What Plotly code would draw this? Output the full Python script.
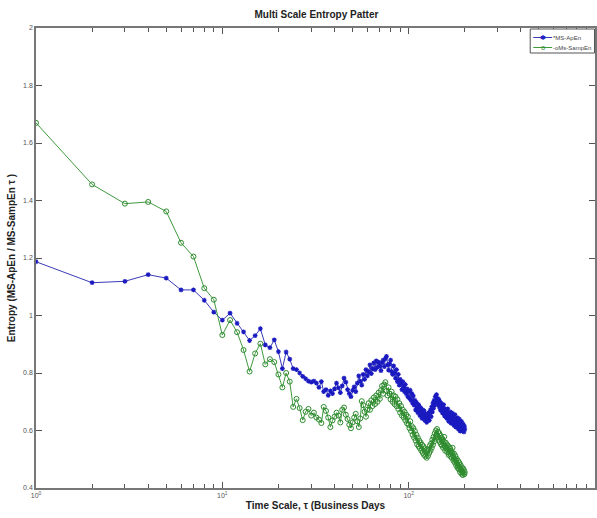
import plotly.graph_objects as go

scales = list(range(1, 201))

apen = [
    1.187, 1.114, 1.119, 1.142, 1.130, 1.089, 1.089, 1.053, 1.012, 0.984,
    1.008, 0.973, 0.943, 0.913, 0.930, 0.954, 0.898, 0.888, 0.915, 0.874,
    0.815, 0.873, 0.848, 0.815, 0.812,
    0.800, 0.788, 0.780, 0.772, 0.768, 0.772, 0.765, 0.750, 0.770, 0.735,
    0.742, 0.722, 0.738, 0.728, 0.745, 0.765, 0.748, 0.732, 0.755, 0.782,
    0.768, 0.742, 0.728, 0.718, 0.740, 0.752, 0.735, 0.765, 0.790, 0.772,
    0.758, 0.795, 0.778, 0.812, 0.790,
    0.805, 0.828, 0.798, 0.815, 0.835, 0.812, 0.842, 0.820, 0.838, 0.825,
    0.808, 0.836, 0.845, 0.822, 0.850, 0.858, 0.828, 0.810, 0.832, 0.845,
    0.805, 0.795, 0.825, 0.800, 0.782, 0.812, 0.770, 0.795, 0.758, 0.778,
    0.765, 0.742, 0.770, 0.752, 0.735, 0.760, 0.728, 0.745, 0.718, 0.738,
    0.712, 0.740, 0.705, 0.728, 0.695, 0.720, 0.688, 0.705, 0.672, 0.698,
    0.680, 0.662, 0.690, 0.668, 0.652, 0.680, 0.660, 0.642, 0.672, 0.650,
    0.668, 0.635, 0.658, 0.645, 0.628, 0.655, 0.640, 0.662, 0.635, 0.650,
    0.672, 0.648, 0.682, 0.665, 0.695, 0.678, 0.705, 0.688, 0.718, 0.700,
    0.725, 0.698, 0.712, 0.690, 0.708, 0.682, 0.700, 0.672, 0.695, 0.668,
    0.685, 0.660, 0.678, 0.690, 0.662, 0.650, 0.675, 0.655, 0.668, 0.642,
    0.660, 0.675, 0.648, 0.632, 0.658, 0.640, 0.665, 0.645, 0.625, 0.652,
    0.638, 0.660, 0.630, 0.645, 0.618, 0.640, 0.655, 0.628, 0.612, 0.638,
    0.622, 0.645, 0.615, 0.630, 0.605, 0.628, 0.640, 0.612, 0.598, 0.625,
    0.610, 0.632, 0.605, 0.618, 0.598, 0.622, 0.608, 0.595, 0.615, 0.605,
]

sampen = [
    1.670, 1.456, 1.389, 1.395, 1.362, 1.253, 1.205, 1.095, 1.055, 0.932,
    0.984, 0.942, 0.880, 0.805, 0.868, 0.902, 0.830, 0.848, 0.838, 0.795,
    0.750, 0.800, 0.770, 0.682, 0.710,
    0.678, 0.636, 0.665, 0.675, 0.652, 0.662, 0.645, 0.638, 0.626, 0.682,
    0.668, 0.645, 0.612, 0.635, 0.648, 0.662, 0.652, 0.628, 0.672, 0.680,
    0.655, 0.640, 0.620, 0.608, 0.628, 0.645, 0.658, 0.632, 0.612, 0.642,
    0.702, 0.688, 0.665, 0.648, 0.672,
    0.695, 0.672, 0.705, 0.685, 0.715, 0.692, 0.722, 0.700, 0.732, 0.710,
    0.740, 0.755, 0.728, 0.760, 0.768, 0.738, 0.722, 0.750, 0.728, 0.708,
    0.735, 0.700, 0.722, 0.692, 0.718, 0.685, 0.708, 0.675, 0.695, 0.662,
    0.685, 0.652, 0.672, 0.645, 0.665, 0.635, 0.655, 0.625, 0.648, 0.620,
    0.608, 0.632, 0.598, 0.615, 0.585, 0.608, 0.575, 0.598, 0.565, 0.585,
    0.552, 0.575, 0.545, 0.565, 0.538, 0.558, 0.530, 0.550, 0.522, 0.545,
    0.515, 0.538, 0.510, 0.532, 0.505, 0.528, 0.512, 0.535, 0.522, 0.548,
    0.530, 0.555, 0.540, 0.568, 0.550, 0.578, 0.562, 0.590, 0.572, 0.600,
    0.585, 0.605, 0.578, 0.595, 0.568, 0.590, 0.560, 0.582, 0.552, 0.575,
    0.548, 0.568, 0.540, 0.562, 0.578, 0.545, 0.530, 0.558, 0.538, 0.552,
    0.525, 0.548, 0.532, 0.515, 0.542, 0.520, 0.538, 0.510, 0.528, 0.505,
    0.522, 0.540, 0.512, 0.495, 0.520, 0.502, 0.488, 0.512, 0.495, 0.478,
    0.502, 0.485, 0.470, 0.495, 0.478, 0.465, 0.488, 0.470, 0.455, 0.480,
    0.462, 0.450, 0.472, 0.458, 0.445, 0.468, 0.452, 0.462, 0.448, 0.455,
]

assert len(apen) == len(scales) and len(sampen) == len(scales)

series_names = ["*MS-ApEn", "-oMs-SampEn"]
x_tickvals = [1, 10, 100, 1000]
x_ticktext = ["10<sup>0</sup>", "10<sup>1</sup>", "10<sup>2</sup>", "10<sup>3</sup>"]
x_minor = [m * d for d in (1, 10, 100) for m in range(2, 10)]
y_tickvals = [0.4, 0.6, 0.8, 1.0, 1.2, 1.4, 1.6, 1.8, 2.0]
y_ticktext = ["0.4", "0.6", "0.8", "1", "1.2", "1.4", "1.6", "1.8", "2"]

BLUE_LINE = "#3a3ab8"
BLUE_MK = "#1a1ac0"
GREEN_LINE = "#3f9a3f"
GREEN_MK = "#2e8b2e"
FONT = "Liberation Sans, Arial, sans-serif"

fig = go.Figure()
fig.add_trace(go.Scatter(
    x=scales, y=apen, name=series_names[0], mode="lines+markers",
    line=dict(color=BLUE_LINE, width=1),
    marker=dict(symbol="asterisk-open", size=4, color=BLUE_MK,
                line=dict(color=BLUE_MK, width=1.2)),
    showlegend=False,
))
fig.add_trace(go.Scatter(
    x=scales, y=sampen, name=series_names[1], mode="lines+markers",
    line=dict(color=GREEN_LINE, width=1),
    marker=dict(symbol="circle-open", size=5, color=GREEN_MK,
                line=dict(color=GREEN_MK, width=1)),
    showlegend=False,
))

# --- compact MATLAB-style legend (pixel layout converted to paper coords) ---
W, H = 597, 518
ML, MR, MT, MB = 36, 0, 28, 30
PW, PH = W - ML - MR, H - MT - MB

def px(x):
    return (x - ML) / PW

def py(y):
    return (H - MB - y) / PH

shapes = [
    dict(type="rect", xref="paper", yref="paper",
         x0=px(532), x1=px(596.5), y0=py(53), y1=py(29),
         line=dict(color="#555555", width=1), fillcolor="white", layer="above"),
]
annotations = []
rows = [(37.5, BLUE_LINE, BLUE_MK, "✱"), (47.5, GREEN_LINE, GREEN_MK, "o")]
for (ry, lc, mc, glyph), name in zip(rows, series_names):
    shapes.append(dict(type="line", xref="paper", yref="paper",
                       x0=px(535), x1=px(554), y0=py(ry), y1=py(ry),
                       line=dict(color=lc, width=1), layer="above"))
    annotations.append(dict(xref="paper", yref="paper", x=px(544.5), y=py(ry),
                            text=glyph, showarrow=False, xanchor="center", yanchor="middle",
                            font=dict(family="DejaVu Sans", size=7, color=mc)))
    annotations.append(dict(xref="paper", yref="paper", x=px(554), y=py(ry),
                            text=name, showarrow=False, xanchor="left", yanchor="middle",
                            borderpad=0,
                            font=dict(family=FONT, size=6, color="#444444")))

axis_font = dict(family=FONT, size=7, color="#555555")

fig.update_layout(
    width=W, height=H,
    margin=dict(l=ML, r=MR, t=MT, b=MB),
    paper_bgcolor="white", plot_bgcolor="white",
    title=dict(text="<b>Multi Scale Entropy Patter</b>", x=0.53, xanchor="center",
               y=0.972, yanchor="middle",
               font=dict(family=FONT, size=10, color="#222222")),
    showlegend=False,
    shapes=shapes,
    annotations=annotations,
    xaxis=dict(
        type="log", range=[0, 3],
        tickvals=x_tickvals, ticktext=x_ticktext,
        ticks="inside", ticklen=6, tickcolor="#555555",
        showline=True, linecolor="#777777", linewidth=1.5, mirror="ticks",
        showgrid=False, zeroline=False,
        tickfont=axis_font,
        minor=dict(tickvals=x_minor, ticks="inside", ticklen=4,
                   tickcolor="#555555", showgrid=False),
        title=dict(text="<b>Time Scale, τ (Business Days</b>", standoff=4,
                   font=dict(family=FONT, size=10, color="#222222")),
    ),
    yaxis=dict(
        range=[0.4, 2.0],
        tickvals=y_tickvals, ticktext=y_ticktext,
        ticks="inside", ticklen=6, tickcolor="#555555",
        showline=True, linecolor="#777777", linewidth=1.5, mirror="ticks",
        showgrid=False, zeroline=False,
        tickfont=axis_font,
        title=dict(text="<b>Entropy (MS-ApEn / MS-SampEn τ )</b>", standoff=6,
                   font=dict(family=FONT, size=10, color="#222222")),
    ),
)

fig.write_html("out.html")
